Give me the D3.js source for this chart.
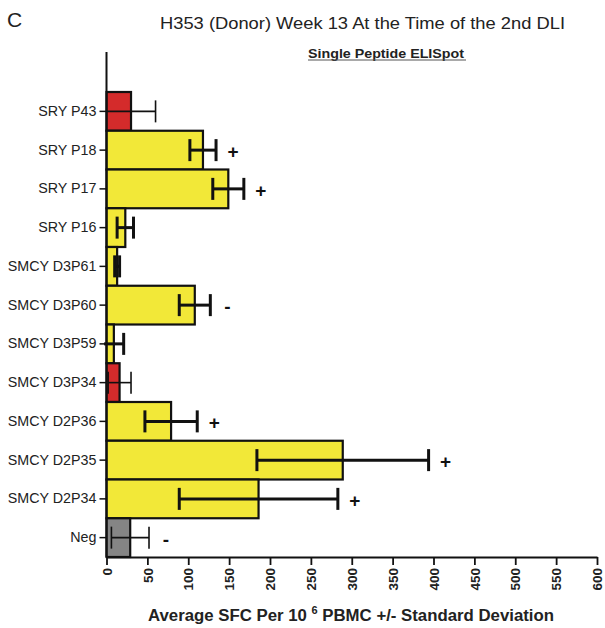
<!DOCTYPE html>
<html>
<head>
<meta charset="utf-8">
<script src="https://cdn.jsdelivr.net/npm/d3@7"></script>
<style>
  html, body { margin: 0; padding: 0; background: #fff; }
  svg { display: block; font-family: "Liberation Sans", Arial, Helvetica, sans-serif; }
</style>
</head>
<body>
<svg id="chart" width="605" height="628"></svg>
<script>
const categories = ["SRY P43", "SRY P18", "SRY P17", "SRY P16", "SMCY D3P61", "SMCY D3P60",
  "SMCY D3P59", "SMCY D3P34", "SMCY D2P36", "SMCY D2P35", "SMCY D2P34", "Neg"];
const means = [30, 118, 149, 23, 13, 108, 9, 16, 79, 289, 186, 29];
const sds   = [30, 16, 19, 10, 3, 19, 12, 14, 32, 105, 97, 23];
const groups = ["A", "B", "B", "B", "B", "B", "B", "A", "B", "B", "B", "N"];
const marks = ["", "+", "+", "", "", "-", "", "", "+", "+", "+", "-"];
const xTicks = [0, 50, 100, 150, 200, 250, 300, 350, 400, 450, 500, 550, 600];

const data = categories.map((c, i) => ({ cat: c, mean: means[i], sd: sds[i], group: groups[i], mark: marks[i] }));

const svg = d3.select("#chart");
const x = d3.scaleLinear().domain([0, 600]).range([106.5, 597]);
const y = d3.scaleBand().domain(categories).range([92, 557]).padding(0);
const fill = d3.scaleOrdinal().domain(["A", "B", "N"]).range(["#d42b2b", "#f2e838", "#858585"]);

// Title texts
svg.append("text").attr("x", 7).attr("y", 27).attr("font-size", 21).attr("fill", "#222").text("C");
svg.append("text").attr("x", 160).attr("y", 29).attr("font-size", 17).attr("fill", "#222")
  .attr("textLength", 405).attr("lengthAdjust", "spacingAndGlyphs")
  .text("H353 (Donor) Week 13 At the Time of the 2nd DLI");
svg.append("text").attr("x", 308).attr("y", 57.5)
  .attr("font-size", 13).attr("font-weight", "bold").attr("fill", "#222")
  .attr("textLength", 156).attr("lengthAdjust", "spacingAndGlyphs")
  .text("Single Peptide ELISpot");
svg.append("line").attr("x1", 308).attr("x2", 466).attr("y1", 60).attr("y2", 60)
  .attr("stroke", "#555").attr("stroke-width", 1);

// Bars
svg.append("g").selectAll("rect").data(data).join("rect")
  .attr("x", x(0))
  .attr("y", d => y(d.cat))
  .attr("width", d => x(d.mean) - x(0))
  .attr("height", y.bandwidth())
  .attr("fill", d => fill(d.group))
  .attr("stroke", "#111")
  .attr("stroke-width", 2.2);

// Error bars
const eb = svg.append("g").selectAll("g").data(data).join("g")
  .attr("stroke", "#111")
  .attr("stroke-width", d => d.group === "B" ? 3 : 1.6);
eb.append("line")
  .attr("x1", d => x(Math.max(d.mean - d.sd, -4)))
  .attr("x2", d => x(d.mean + d.sd))
  .attr("y1", d => y(d.cat) + y.bandwidth() / 2)
  .attr("y2", d => y(d.cat) + y.bandwidth() / 2);
eb.append("line")
  .attr("x1", d => x(d.mean + d.sd)).attr("x2", d => x(d.mean + d.sd))
  .attr("y1", d => y(d.cat) + y.bandwidth() / 2 - 11)
  .attr("y2", d => y(d.cat) + y.bandwidth() / 2 + 11);
eb.filter(d => d.mean - d.sd > 0).append("line")
  .attr("x1", d => x(d.mean - d.sd)).attr("x2", d => x(d.mean - d.sd))
  .attr("y1", d => y(d.cat) + y.bandwidth() / 2 - 11)
  .attr("y2", d => y(d.cat) + y.bandwidth() / 2 + 11);

// Significance marks
svg.append("g").selectAll("text").data(data.filter(d => d.mark)).join("text")
  .attr("x", d => x(d.mean + d.sd) + 17)
  .attr("y", d => y(d.cat) + y.bandwidth() / 2 + 8)
  .attr("text-anchor", "middle")
  .attr("font-size", 19)
  .attr("font-weight", "bold")
  .attr("fill", "#111")
  .text(d => d.mark);

// Y axis
const yAxis = svg.append("g").attr("transform", `translate(${x(0)},0)`)
  .call(d3.axisLeft(y).tickSize(7).tickPadding(3));
yAxis.select(".domain").remove();
yAxis.append("line").attr("x1", 0).attr("x2", 0).attr("y1", 52).attr("y2", 557)
  .attr("stroke", "#111").attr("stroke-width", 2);
yAxis.selectAll(".tick line").attr("stroke", "#111").attr("stroke-width", 1.5);
yAxis.selectAll(".tick text").attr("font-size", 14.3).attr("fill", "#222")
  .attr("font-family", "Liberation Sans, Arial, sans-serif");

// X axis
const xAxis = svg.append("g").attr("transform", "translate(0,557)")
  .call(d3.axisBottom(x).tickValues(xTicks).tickSize(8).tickSizeOuter(0));
xAxis.select(".domain").attr("stroke", "#111").attr("stroke-width", 2.2);
xAxis.selectAll(".tick line").attr("stroke", "#111").attr("stroke-width", 1.8);
xAxis.selectAll(".tick text")
  .attr("font-size", 13.5).attr("font-weight", "bold").attr("fill", "#222")
  .attr("font-family", "Liberation Sans, Arial, sans-serif")
  .attr("transform", "rotate(-90)")
  .attr("text-anchor", "end")
  .attr("x", -11).attr("y", 0).attr("dy", "0.35em");

// X axis title
const xt = svg.append("text").attr("x", 351).attr("y", 621).attr("text-anchor", "middle")
  .attr("font-size", 16.8).attr("font-weight", "bold").attr("fill", "#222");
xt.append("tspan").text("Average SFC Per 10 ");
xt.append("tspan").attr("dy", -7).attr("font-size", 11).text("6");
xt.append("tspan").attr("dy", 7).text(" PBMC +/- Standard Deviation");
</script>
</body>
</html>
